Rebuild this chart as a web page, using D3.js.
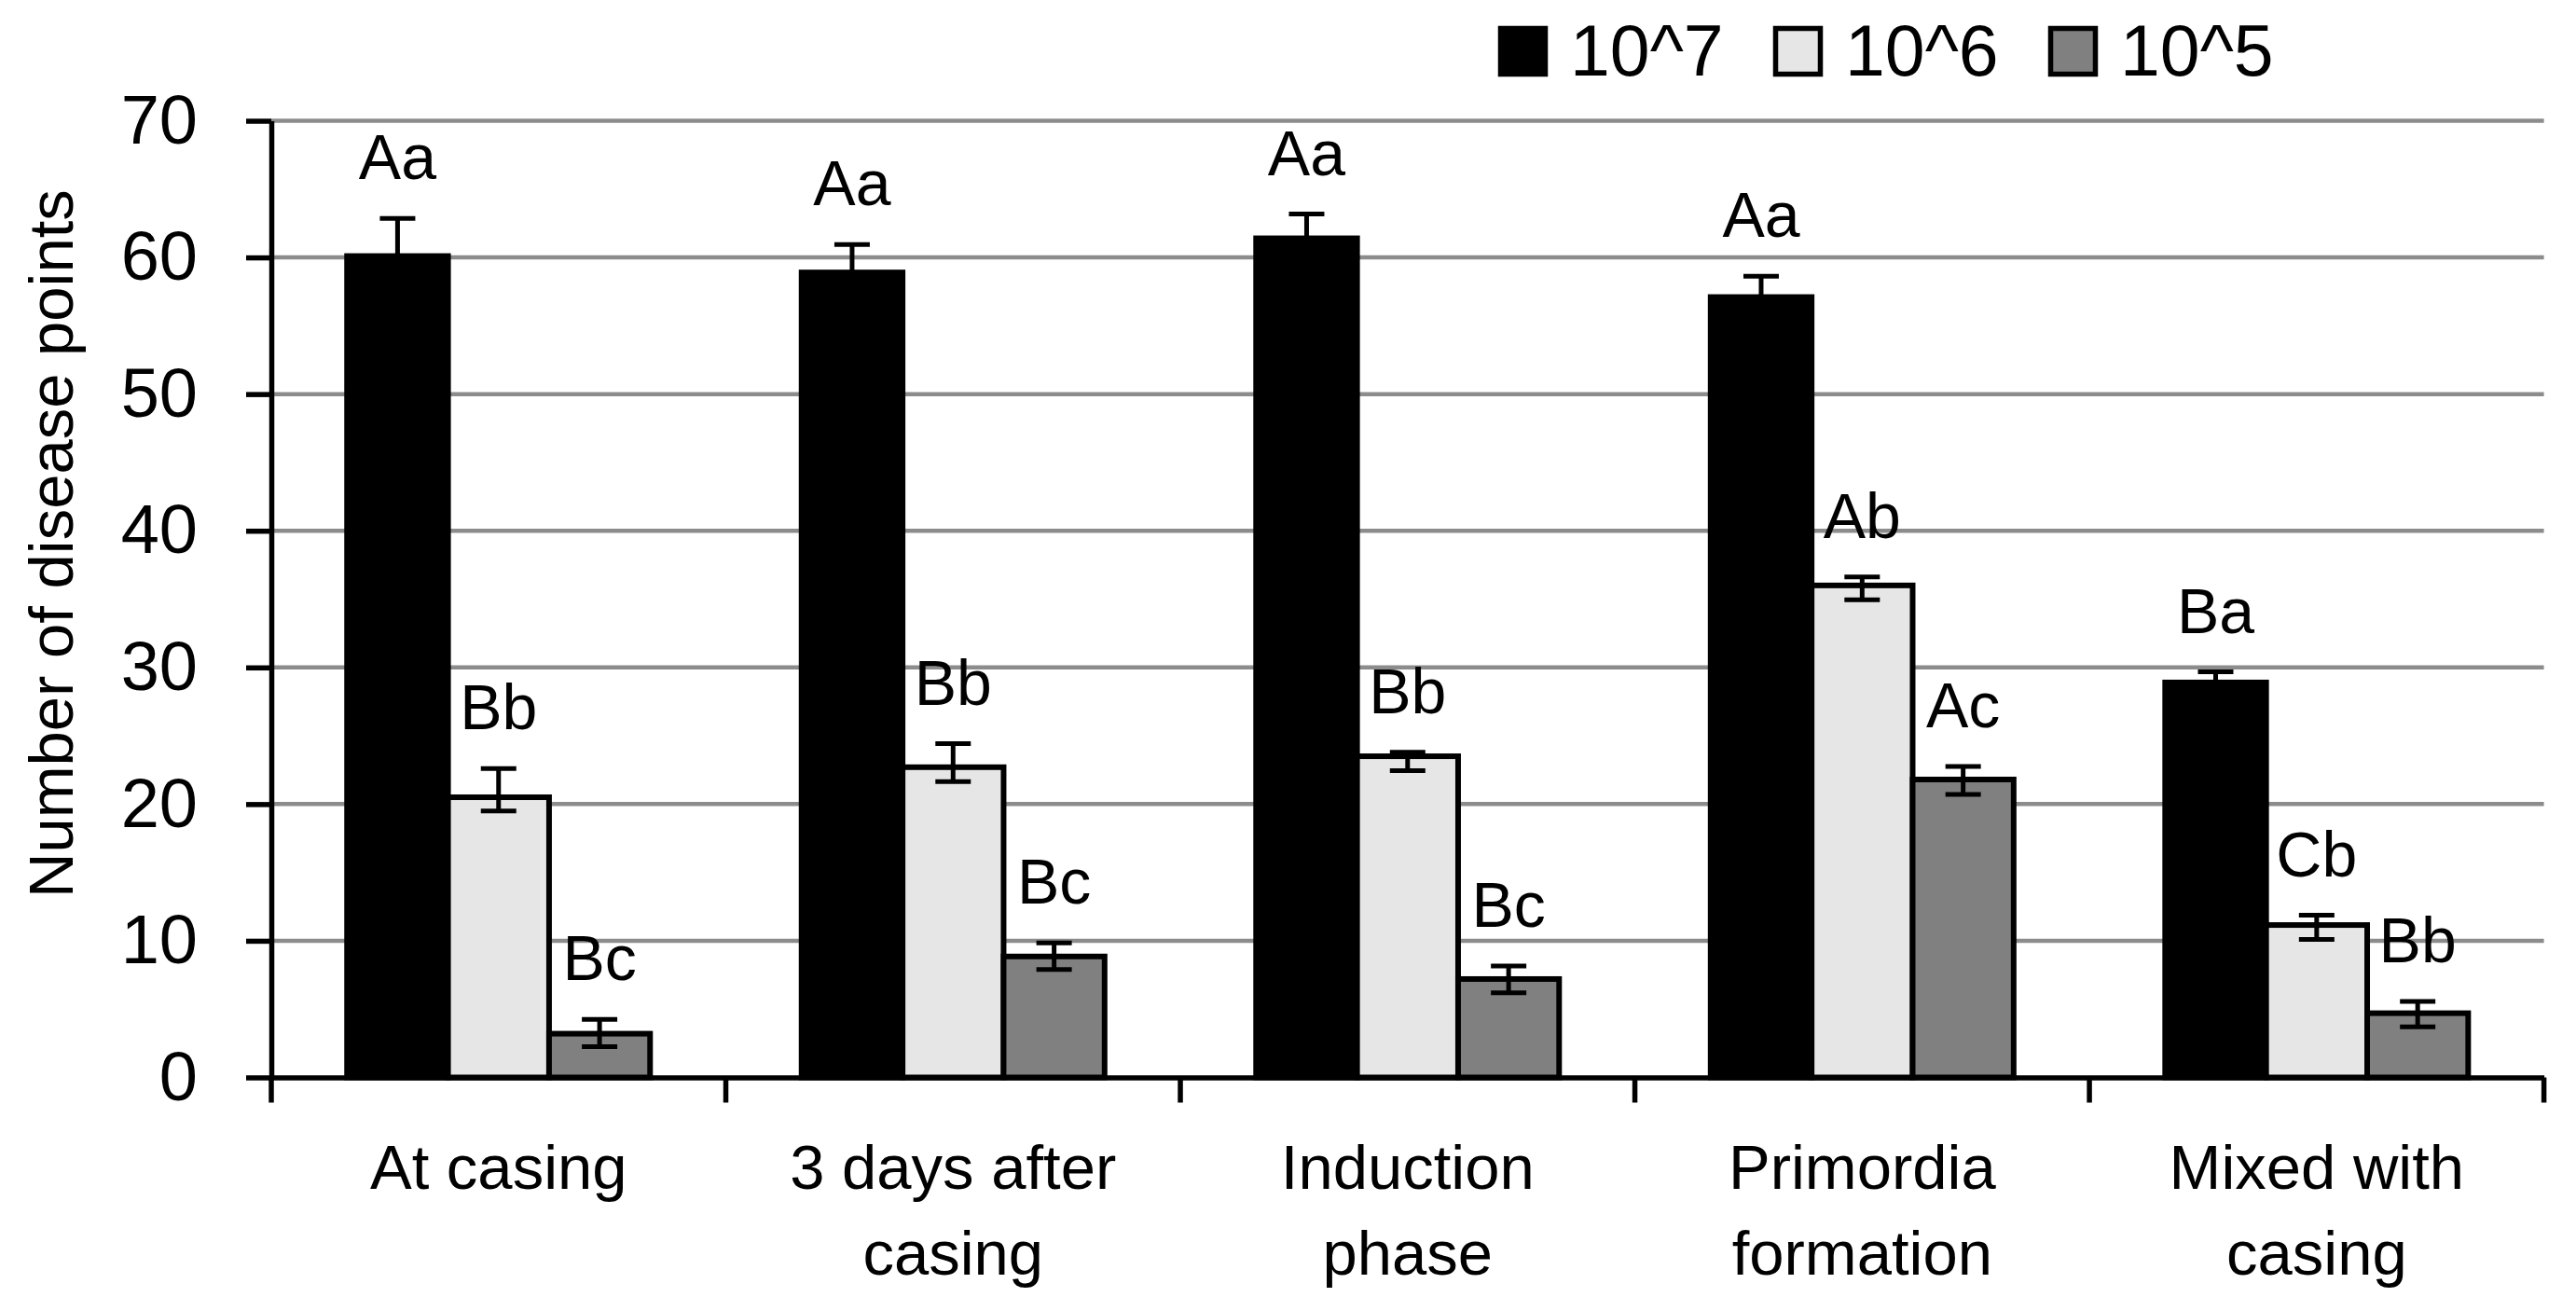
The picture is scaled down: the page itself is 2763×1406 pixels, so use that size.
<!DOCTYPE html>
<html>
<head>
<meta charset="utf-8">
<script src="https://cdn.jsdelivr.net/npm/d3@7"></script>
<style>
  body { margin: 0; background: #fff; }
  text { font-family: "Liberation Sans", Arial, sans-serif; fill: #000; }
</style>
</head>
<body>
<div id="chart"></div>
<script>
// data
var categories = ["At casing", "3 days after casing", "Induction phase", "Primordia formation", "Mixed with casing"];
var catLines = [["At casing"], ["3 days after", "casing"], ["Induction", "phase"], ["Primordia", "formation"], ["Mixed with", "casing"]];
var series = ["10^7", "10^6", "10^5"];

var v7 = [60.1, 58.9, 61.4, 57.1, 28.9];
var v7Plus = [2.75, 2.05, 1.77, 1.53, 0.77];
var v7Minus = [2.75, 2.05, 1.77, 1.53, 0.77];
var v6 = [20.5, 22.7, 23.5, 36.0, 11.15];
var v6Plus = [2.1, 1.72, 0.29, 0.62, 0.72];
var v6Minus = [1.0, 1.06, 1.05, 1.05, 1.05];
var v5 = [3.2, 8.85, 7.2, 21.8, 4.7];
var v5Plus = [1.05, 1.0, 0.95, 0.96, 0.86];
var v5Minus = [0.95, 0.96, 1.0, 1.1, 1.0];

var l7 = ["Aa", "Aa", "Aa", "Aa", "Ba"];
var l6 = ["Bb", "Bb", "Bb", "Ab", "Cb"];
var l5 = ["Bc", "Bc", "Bc", "Ac", "Bb"];

var yTicks = [0, 10, 20, 30, 40, 50, 60, 70];

// svg size and plot box
var svgWidth = 2763;
var svgHeight = 1406;
var plotLeft = 291, plotRight = 2728.6, plotTop = 129.5, plotBottom = 1155.5;

var colors = { "10^7": "#000000", "10^6": "#e6e6e6", "10^5": "#808080" };

// build rows for the bars
var rows = [];
categories.forEach(function(c, i) {
  rows.push({ cat: c, s: "10^7", v: v7[i], plus: v7Plus[i], minus: v7Minus[i], lab: l7[i] });
  rows.push({ cat: c, s: "10^6", v: v6[i], plus: v6Plus[i], minus: v6Minus[i], lab: l6[i] });
  rows.push({ cat: c, s: "10^5", v: v5[i], plus: v5Plus[i], minus: v5Minus[i], lab: l5[i] });
});

var svg = d3.select("#chart")
  .append("svg")
  .attr("width", svgWidth)
  .attr("height", svgHeight);

// scales
var y = d3.scaleLinear().domain([0, 70]).range([plotBottom, plotTop]);
var x0 = d3.scaleBand().domain(categories).range([plotLeft, plotRight]).padding(0);
var x1 = d3.scaleBand().domain(series).range([0, x0.bandwidth()])
  .paddingInner(0).paddingOuter(0.75);

// gridlines
svg.append("g").selectAll("line")
  .data(yTicks.filter(d => d > 0))
  .enter()
  .append("line")
  .attr("x1", plotLeft)
  .attr("x2", plotRight)
  .attr("y1", d => y(d))
  .attr("y2", d => y(d))
  .attr("stroke", "#8c8c8c")
  .attr("stroke-width", 4.5);

// bars
svg.append("g").selectAll("rect")
  .data(rows)
  .enter()
  .append("rect")
  .attr("x", d => x0(d.cat) + x1(d.s))
  .attr("y", d => y(d.v))
  .attr("width", x1.bandwidth())
  .attr("height", d => y(0) - y(d.v))
  .attr("fill", d => colors[d.s])
  .attr("stroke", "#000")
  .attr("stroke-width", 6);

// error bars
var capHalf = 19;
var errG = svg.append("g").attr("stroke", "#000").attr("stroke-width", 5);
rows.forEach(function(d) {
  var cx = x0(d.cat) + x1(d.s) + x1.bandwidth() / 2;
  var yt = y(d.v + d.plus), yb = y(d.v - d.minus);
  errG.append("line").attr("x1", cx).attr("x2", cx).attr("y1", yt).attr("y2", yb);
  errG.append("line").attr("x1", cx - capHalf).attr("x2", cx + capHalf).attr("y1", yt).attr("y2", yt);
  errG.append("line").attr("x1", cx - capHalf).attr("x2", cx + capHalf).attr("y1", yb).attr("y2", yb);
});

// significance letters
svg.append("g").selectAll("text")
  .data(rows)
  .enter()
  .append("text")
  .attr("x", d => x0(d.cat) + x1(d.s) + x1.bandwidth() / 2)
  .attr("y", d => y(d.v + d.plus) - 42)
  .attr("text-anchor", "middle")
  .attr("font-size", 68)
  .text(d => d.lab);

// y axis
var yAxis = svg.append("g")
  .attr("transform", `translate(${plotLeft}, 0)`)
  .call(d3.axisLeft(y).tickValues(yTicks).tickSize(27).tickSizeOuter(0).tickPadding(52));
yAxis.selectAll("line").attr("stroke", "#000").attr("stroke-width", 5.5);
yAxis.select(".domain").attr("stroke", "#000").attr("stroke-width", 5.5);
yAxis.selectAll("text")
  .style("font-family", '"Liberation Sans", Arial, sans-serif')
  .attr("font-size", 74)
  .attr("fill", "#000");

// x axis line and boundary ticks
var xAxis = svg.append("g")
  .attr("transform", `translate(0, ${plotBottom})`)
  .call(d3.axisBottom(x0).tickSize(0).tickSizeOuter(0).tickFormat(""));
xAxis.select(".domain").attr("stroke", "#000").attr("stroke-width", 5.5);

var bounds = categories.map(c => x0(c)).concat([x0.range()[1]]);
xAxis.selectAll(".bound")
  .data(bounds)
  .enter()
  .append("line")
  .attr("class", "bound")
  .attr("x1", d => d)
  .attr("x2", d => d)
  .attr("y1", 0)
  .attr("y2", 27)
  .attr("stroke", "#000")
  .attr("stroke-width", 5.5);

// category labels, two lines where needed
var catG = svg.append("g");
categories.forEach(function(c, i) {
  var t = catG.append("text")
    .attr("x", x0(c) + x0.bandwidth() / 2)
    .attr("y", 1275)
    .attr("text-anchor", "middle")
    .attr("font-size", 67);
  catLines[i].forEach(function(line, j) {
    t.append("tspan")
      .attr("x", x0(c) + x0.bandwidth() / 2)
      .attr("dy", j === 0 ? 0 : 91.6)
      .text(line);
  });
});

// y axis title
svg.append("text")
  .attr("transform", `translate(78, ${(198 + 968) / 2}) rotate(-90)`)
  .attr("text-anchor", "middle")
  .attr("font-size", 67)
  .text("Number of disease points");

// legend
var legend = svg.append("g").attr("transform", "translate(1607, 28)");
var item = legend.selectAll("g")
  .data(series)
  .enter()
  .append("g")
  .attr("transform", (d, i) => `translate(${i * 295}, 0)`);
item.append("rect")
  .attr("x", 2.5)
  .attr("y", 2.5)
  .attr("width", 48)
  .attr("height", 49)
  .attr("fill", d => colors[d])
  .attr("stroke", "#000")
  .attr("stroke-width", 5.5);
item.append("text")
  .attr("x", 77)
  .attr("y", 53)
  .attr("font-size", 77)
  .text(d => d);
</script>
</body>
</html>
